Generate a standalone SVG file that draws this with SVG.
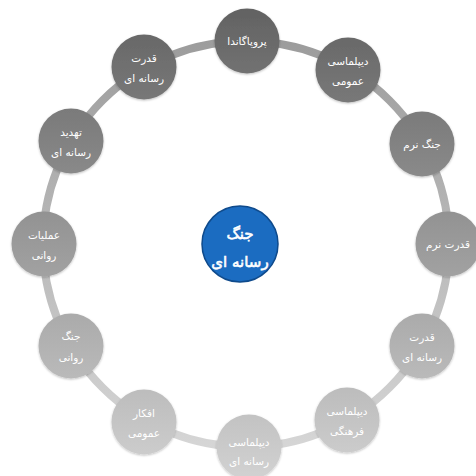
<svg xmlns="http://www.w3.org/2000/svg" width="476" height="476" viewBox="0 0 476 476">
<defs>
<linearGradient id="ringG" gradientUnits="userSpaceOnUse" x1="0" y1="40" x2="0" y2="450">
<stop offset="0" stop-color="#9c9c9c"/>
<stop offset="1" stop-color="#d6d6d6"/>
</linearGradient>
<linearGradient id="nodeG" gradientUnits="userSpaceOnUse" x1="0" y1="8" x2="0" y2="480">
<stop offset="0" stop-color="#626262"/>
<stop offset="1" stop-color="#d2d2d2"/>
</linearGradient>
<filter id="sh" x="-20%" y="-20%" width="140%" height="140%">
<feDropShadow dx="0" dy="1" stdDeviation="1.2" flood-color="#000" flood-opacity="0.25"/>
</filter>
</defs>
<style>
text{direction:rtl;unicode-bidi:embed}
.node circle{fill:url(#nodeG);filter:url(#sh)}
.node text{fill:#fff;font-family:"DejaVu Sans",sans-serif;font-size:10.5px;text-anchor:middle}
.center text{fill:#fff;stroke:#fff;stroke-width:0.6px;font-family:"DejaVu Sans",sans-serif;font-size:15px;text-anchor:middle}
</style>
<rect width="476" height="476" fill="#fff"/>
<g id="connectors">
<circle cx="246" cy="244" r="203" fill="none" stroke="url(#ringG)" stroke-width="8"/>
</g>
<g id="n1" class="node"><circle cx="247" cy="41" r="32.5"/><text x="247" y="45">پروپاگاندا</text></g>
<g id="n2" class="node"><circle cx="348" cy="70" r="32.5"/><text x="348" y="65">دیپلماسی</text><text x="348" y="85">عمومی</text></g>
<g id="n3" class="node"><circle cx="422" cy="144" r="32.5"/><text x="422" y="148">جنگ نرم</text></g>
<g id="n4" class="node"><circle cx="448" cy="244" r="32.5"/><text x="448" y="248">قدرت نرم</text></g>
<g id="n5" class="node"><circle cx="422" cy="346" r="32.5"/><text x="422" y="341">قدرت</text><text x="422" y="361">رسانه ای</text></g>
<g id="n6" class="node"><circle cx="347" cy="420" r="32.5"/><text x="347" y="415">دیپلماسی</text><text x="347" y="435">فرهنگی</text></g>
<g id="n7" class="node"><circle cx="249" cy="447" r="32.5"/><text x="249" y="446">دیپلماسی</text><text x="249" y="465">رسانه ای</text></g>
<g id="n8" class="node"><circle cx="144" cy="422" r="32.5"/><text x="144" y="417">افکار</text><text x="144" y="437">عمومی</text></g>
<g id="n9" class="node"><circle cx="71" cy="346" r="32.5"/><text x="71" y="340">جنگ</text><text x="71" y="361">روانی</text></g>
<g id="n10" class="node"><circle cx="44" cy="244" r="32.5"/><text x="44" y="239">عملیات</text><text x="44" y="259">روانی</text></g>
<g id="n11" class="node"><circle cx="71" cy="141" r="32.5"/><text x="71" y="136">تهدید</text><text x="71" y="156">رسانه ای</text></g>
<g id="n12" class="node"><circle cx="144" cy="67" r="32.5"/><text x="144" y="62">قدرت</text><text x="144" y="82">رسانه ای</text></g>
<g id="center" class="center"><circle cx="240" cy="244" r="38" fill="#1b6cc1" stroke="#0e4a8c" stroke-width="1.5"/><text x="240" y="239">جنگ</text><text x="240" y="267">رسانه ای</text></g>
</svg>
